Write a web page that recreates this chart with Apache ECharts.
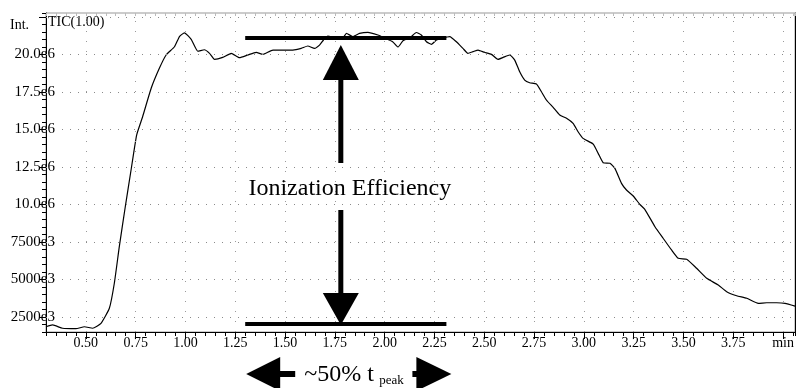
<!DOCTYPE html>
<html>
<head>
<meta charset="utf-8">
<script src="https://cdn.jsdelivr.net/npm/echarts@6/dist/echarts.min.js"></script>
<style>
  html, body { margin: 0; padding: 0; background: #fff; }
  #chart { width: 801px; height: 388px; }
</style>
</head>
<body>
<div id="chart"></div>
<script>
// retention time (min) and TIC intensity (x1e6)
const timeMin = [
  0.30, 0.333, 0.383, 0.45, 0.493, 0.534, 0.576, 0.618, 0.643, 0.668,
  0.698, 0.727, 0.755, 0.785, 0.828, 0.869, 0.903, 0.945, 0.97, 0.995,
  1.029, 1.062, 1.095, 1.121, 1.146, 1.187, 1.23, 1.271, 1.313, 1.355,
  1.388, 1.439, 1.489, 1.539, 1.581, 1.614, 1.648, 1.673, 1.693, 1.715,
  1.76, 1.79, 1.808, 1.84, 1.874, 1.916, 1.966, 2.0, 2.04, 2.067,
  2.092, 2.13, 2.159, 2.184, 2.21, 2.235, 2.26, 2.29, 2.327, 2.36,
  2.393, 2.418, 2.444, 2.469, 2.5, 2.536, 2.569, 2.595, 2.628, 2.653,
  2.678, 2.703, 2.728, 2.762, 2.787, 2.812, 2.846, 2.879, 2.913, 2.946,
  2.971, 2.996, 3.047, 3.072, 3.097, 3.131, 3.156, 3.189, 3.214, 3.248,
  3.281, 3.306, 3.357, 3.398, 3.44, 3.474, 3.516, 3.566, 3.617, 3.675,
  3.717, 3.767, 3.818, 3.876, 3.918, 3.968, 4.01, 4.06
];
const intensity = [
  1.85, 1.97, 1.75, 1.72, 1.85, 1.75, 2.08, 3.08, 4.75, 7.19,
  9.85, 12.3, 14.63, 15.85, 17.75, 19.08, 19.97, 20.52, 21.2, 21.45,
  21.01, 20.22, 20.32, 20.08, 19.68, 19.81, 20.08, 19.79, 19.97, 20.15,
  20.01, 20.3, 20.3, 20.3, 20.41, 20.57, 20.41, 20.63, 20.97, 21.23,
  21.1, 21.1, 21.41, 21.2, 21.41, 21.48, 21.3, 21.1, 20.85, 20.5,
  20.92, 21.15, 21.47, 21.3, 20.85, 20.68, 20.97, 21.1, 21.2, 20.85,
  20.41, 20.08, 20.19, 20.3, 20.15, 20.01, 19.68, 19.81, 19.97, 19.63,
  18.85, 18.3, 18.12, 18.03, 17.52, 16.97, 16.48, 15.97, 15.75, 15.41,
  14.85, 14.41, 14.03, 13.41, 12.79, 12.75, 12.41, 11.41, 10.97, 10.57,
  10.01, 9.68, 8.52, 7.75, 6.97, 6.41, 6.35, 5.75, 5.08, 4.63,
  4.19, 3.92, 3.75, 3.41, 3.45, 3.45, 3.41, 3.23
];

const xMajor = [0.5, 0.75, 1.0, 1.25, 1.5, 1.75, 2.0, 2.25, 2.5, 2.75, 3.0, 3.25, 3.5, 3.75, 4.0];
const xMajorLabels = ['0.50', '0.75', '1.00', '1.25', '1.50', '1.75', '2.00', '2.25', '2.50', '2.75', '3.00', '3.25', '3.50', '3.75', 'min'];
const yMajor = [2.5, 5, 7.5, 10, 12.5, 15, 17.5, 20, 22.5];
const yMajorLabels = ['2500e3', '5000e3', '7500e3', '10.0e6', '12.5e6', '15.0e6', '17.5e6', '20.0e6', ''];

// annotation: plateau span (min) and the two levels (x1e6)
const annoStart = 1.3;
const annoEnd = 2.31;
const annoMid = 1.78;
const topLevel = 21.1;
const baseLevel = 2.03;

const serif = '"Liberation Serif", "DejaVu Serif", serif';
const xMin = 0.3, xMax = 4.06, yMin = 1.5, yMax = 22.77;

function pickLabel(values, labels) {
  return (v) => {
    const i = values.findIndex((m) => Math.abs(m - v) < 1e-6);
    return i < 0 ? '' : labels[i];
  };
}

const chart = echarts.init(document.getElementById('chart'), null, { renderer: 'canvas' });

const gridLines = [
  ...xMajor.map((v) => ({ xAxis: v, lineStyle: { color: '#9a9a9a', type: [1, 9], width: 1 } })),
  ...yMajor.map((v) => ({ yAxis: v, lineStyle: { color: '#8a8a8a', type: [1, 7], width: 1 } })),
];

const option = {
  animation: false,
  backgroundColor: '#fff',
  grid: { left: 46, right: 6, top: 13, bottom: 56, show: true, borderColor: '#999', borderWidth: 1 },
  xAxis: [
    {
      type: 'value', min: xMin, max: xMax, interval: 0.05, position: 'bottom',
      axisLine: { onZero: false, lineStyle: { color: '#000', width: 1 } },
      axisTick: { length: 4, lineStyle: { color: '#000' } },
      axisLabel: { show: false },
      splitLine: { show: false },
    },
    {
      type: 'value', min: xMin, max: xMax, position: 'bottom',
      axisLine: { show: false, onZero: false },
      axisTick: { customValues: xMajor, length: 7, lineStyle: { color: '#000' } },
      axisLabel: {
        customValues: xMajor, formatter: pickLabel(xMajor, xMajorLabels),
        margin: 4, color: '#000', fontFamily: serif, fontSize: 14,
      },
      splitLine: { show: false },
    },
    {
      type: 'value', min: xMin, max: xMax, interval: 0.05, position: 'top',
      axisLine: { show: false, onZero: false },
      axisTick: { inside: true, length: 3, lineStyle: { color: '#bbb' } },
      axisLabel: { show: false },
      splitLine: { show: false },
    },
  ],
  yAxis: [
    {
      type: 'value', min: yMin, max: yMax, interval: 0.5, position: 'left',
      axisLine: { show: true, onZero: false, lineStyle: { color: '#000', width: 1 } },
      axisTick: { show: true, length: 4, lineStyle: { color: '#000' } },
      axisLabel: { show: false },
      splitLine: { show: false },
    },
    {
      type: 'value', min: yMin, max: yMax, position: 'left',
      axisLine: { show: false, onZero: false },
      axisTick: { show: true, customValues: yMajor, length: 7, lineStyle: { color: '#000' } },
      axisLabel: {
        customValues: yMajor, formatter: pickLabel(yMajor, yMajorLabels),
        margin: -9, color: '#000', fontFamily: serif, fontSize: 15,
      },
      splitLine: { show: false },
    },
    {
      type: 'value', min: yMin, max: yMax, position: 'right',
      axisLine: { show: true, onZero: false, lineStyle: { color: '#000', width: 1 } },
      axisTick: { show: false },
      axisLabel: { show: false },
      splitLine: { show: false },
    },
  ],
  series: [
    {
      type: 'line', xAxisIndex: 0, yAxisIndex: 0, data: [], z: 1, silent: true,
      markLine: { silent: true, symbol: 'none', label: { show: false }, data: gridLines },
    },
    {
      name: 'TIC', type: 'line', xAxisIndex: 0, yAxisIndex: 0, z: 3,
      data: timeMin.map((t, i) => [t, intensity[i]]),
      showSymbol: false, smooth: 0.15, clip: true,
      lineStyle: { color: '#000', width: 1.2 },
    },
  ],
};

chart.setOption(option);

// annotations, placed from the data scale
const px = (t, v) => chart.convertToPixel({ xAxisIndex: 0, yAxisIndex: 0 }, [t, v]);
const [xs, yTop] = px(annoStart, topLevel);
const [xe, yBase] = px(annoEnd, baseLevel);
const [xm] = px(annoMid, topLevel);
const textY = 189;
const yB = 374;
const black = { fill: '#000' };

chart.setOption({
  graphic: [
    { type: 'text', style: { text: 'Int.', x: 10, y: 25, align: 'left', verticalAlign: 'middle', font: '14px ' + serif, fill: '#000' } },
    { type: 'text', style: { text: 'TIC(1.00)', x: 48, y: 22, align: 'left', verticalAlign: 'middle', font: '14px ' + serif, fill: '#000' } },
    // plateau and baseline bars
    { type: 'rect', shape: { x: xs, y: yTop - 2, width: xe - xs, height: 4 }, style: black, z: 10 },
    { type: 'rect', shape: { x: xs, y: yBase - 2, width: xe - xs, height: 4 }, style: black, z: 10 },
    // double arrow
    { type: 'polygon', shape: { points: [[xm, yTop + 7], [xm - 18, yTop + 42], [xm + 18, yTop + 42]] }, style: black, z: 10 },
    { type: 'rect', shape: { x: xm - 2.5, y: yTop + 41, width: 5, height: textY - 26 - (yTop + 41) }, style: black, z: 10 },
    { type: 'rect', shape: { x: xm - 2.5, y: textY + 21, width: 5, height: yBase - 30 - (textY + 21) }, style: black, z: 10 },
    { type: 'polygon', shape: { points: [[xm, yBase + 1], [xm - 18, yBase - 31], [xm + 18, yBase - 31]] }, style: black, z: 10 },
    { type: 'text', style: { text: 'Ionization Efficiency', x: xm + 9, y: textY, align: 'center', verticalAlign: 'middle', font: '24px ' + serif, fill: '#000' }, z: 10 },
    // ~50% t_peak
    { type: 'polygon', shape: { points: [[xs + 1, yB], [xs + 35, yB - 17], [xs + 35, yB + 17]] }, style: black },
    { type: 'rect', shape: { x: xs + 34, y: yB - 3, width: 16, height: 6 }, style: black },
    { type: 'polygon', shape: { points: [[xe + 5, yB], [xe - 30, yB - 17], [xe - 30, yB + 17]] }, style: black },
    { type: 'rect', shape: { x: xe - 34, y: yB - 3, width: 5, height: 6 }, style: black },
    { type: 'text', style: { text: '~50% t', x: xs + 59, y: yB + 1, align: 'left', verticalAlign: 'middle', font: '24px ' + serif, fill: '#000' } },
    { type: 'text', style: { text: 'peak', x: xs + 134, y: yB + 7, align: 'left', verticalAlign: 'middle', font: '13px ' + serif, fill: '#000' } },
  ],
});

window.addEventListener('resize', () => chart.resize());
</script>
</body>
</html>
